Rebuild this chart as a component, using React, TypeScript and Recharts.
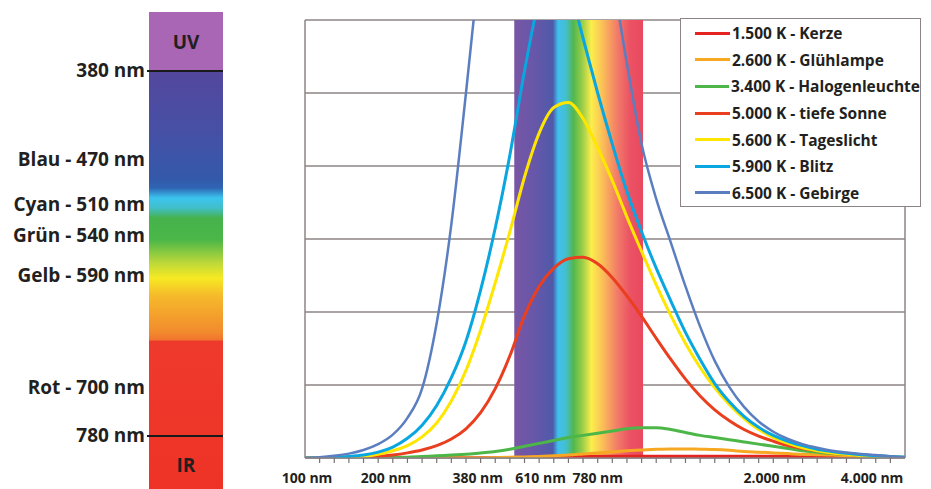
import { LineChart, Line, XAxis, YAxis, CartesianGrid, ReferenceArea, Legend } from "recharts";

// tick slots on the x axis (evenly spaced tick marks)
const positions = [
    0, 1, 2, 3, 4, 5, 6, 7, 8, 9, 10, 11, 12, 13, 14, 15, 16, 17, 18, 19, 20,
    21, 22, 23, 24, 25, 26, 27, 28, 29, 30, 31, 32, 33, 34, 35, 36, 37, 38, 39, 40, 41,
];

const kerze = [
    0, 0, 0, 0, 0, 0, 0, 0, 0, 0, 0, 0, 0, 0, 0, 0.005, 0.01, 0.015, 0.02, 0.02, 0.02,
    0.02, 0.02, 0.02, 0.02, 0.02, 0.02, 0.02, 0.02, 0.02, 0.02, 0.02, 0.02, 0.02, 0.015, 0.015, 0.015, 0.01, 0.01, 0.005, 0.005, 0,
];
const gluehlampe = [
    0, 0, 0, 0, 0, 0, 0, 0, 0, 0, 0, 0, 0, 0.005, 0.01, 0.015, 0.02, 0.03, 0.04, 0.055, 0.07,
    0.085, 0.1, 0.11, 0.12, 0.125, 0.125, 0.12, 0.115, 0.105, 0.09, 0.08, 0.07, 0.06, 0.05, 0.045, 0.04, 0.03, 0.02, 0.015, 0.01, 0,
];
const halogen = [
    0, 0, 0, 0, 0, 0.005, 0.01, 0.01, 0.02, 0.03, 0.04, 0.05, 0.07, 0.09, 0.12, 0.16, 0.2, 0.24, 0.28, 0.31, 0.34,
    0.37, 0.4, 0.415, 0.415, 0.39, 0.35, 0.31, 0.28, 0.25, 0.22, 0.19, 0.16, 0.13, 0.1, 0.08, 0.06, 0.05, 0.04, 0.03, 0.02, 0.01,
];
const tiefeSonne = [
    0, 0, 0, 0, 0.01, 0.02, 0.04, 0.07, 0.11, 0.17, 0.26, 0.4, 0.62, 0.95, 1.4, 1.95, 2.35, 2.6, 2.73, 2.75, 2.66,
    2.47, 2.22, 1.94, 1.64, 1.35, 1.08, 0.85, 0.66, 0.51, 0.39, 0.3, 0.23, 0.17, 0.13, 0.1, 0.07, 0.05, 0.035, 0.02, 0.01, 0,
];
const tageslicht = [
    0, 0, 0, 0.01, 0.02, 0.05, 0.1, 0.17, 0.29, 0.48, 0.78, 1.2, 1.75, 2.4, 3.1, 3.85, 4.45, 4.8, 4.87, 4.65, 4.25,
    3.8, 3.3, 2.83, 2.37, 1.95, 1.57, 1.24, 0.96, 0.73, 0.54, 0.39, 0.28, 0.2, 0.14, 0.1, 0.07, 0.05, 0.03, 0.02, 0.01, 0,
];
const blitz = [
    0, 0, 0.01, 0.02, 0.04, 0.08, 0.15, 0.27, 0.45, 0.72, 1.1, 1.6, 2.3, 3.15, 4.15, 5.3, 6.3, 6.9, 6.5, 5.75, 5.0,
    4.3, 3.65, 3.1, 2.6, 2.15, 1.72, 1.35, 1.02, 0.77, 0.57, 0.42, 0.31, 0.23, 0.17, 0.12, 0.09, 0.065, 0.045, 0.03, 0.02, 0.01,
];
const gebirge = [
    0, 0.01, 0.03, 0.06, 0.11, 0.19, 0.32, 0.55, 0.95, 1.85, 3.2, 5.0, 6.9, 8.5, 9.6, 10.2, 10.3, 9.9, 9.1, 8.4, 7.6,
    6.6, 5.4, 4.3, 3.55, 2.95, 2.35, 1.8, 1.33, 0.97, 0.7, 0.5, 0.36, 0.26, 0.19, 0.14, 0.1, 0.075, 0.055, 0.04, 0.025, 0.012,
];

const seriesNames = [
    "1.500 K - Kerze",
    "2.600 K - Glühlampe",
    "3.400 K - Halogenleuchte",
    "5.000 K - tiefe Sonne",
    "5.600 K - Tageslicht",
    "5.900 K - Blitz",
    "6.500 K - Gebirge",
];
const seriesValues = [kerze, gluehlampe, halogen, tiefeSonne, tageslicht, blitz, gebirge];
const seriesColors = ["#e52421", "#f7a823", "#4cb748", "#ea3f1f", "#ffe600", "#0aa6e0", "#5b7ec1"];
const seriesWidths = [3.5, 3, 3, 3, 3, 3, 2.5];

// where the wavelength labels sit along the tick slots
const xLabelPos = [0.14, 5.54, 11.8, 16.1, 20, 32.1, 38.75];
const xLabels = ["100 nm", "200 nm", "380 nm", "610 nm", "780 nm", "2.000 nm", "4.000 nm"];
const yTicks = [0, 1, 2, 3, 4, 5, 6];

// visible light band (380–780 nm) in tick slots
const bandFrom = 14.3;
const bandTo = 23.1;

const bandLabels = ["380 nm", "Blau - 470 nm", "Cyan - 510 nm", "Grün - 540 nm", "Gelb - 590 nm", "Rot - 700 nm", "780 nm"];
const bandLabelY = [71, 160, 205, 236, 276, 388, 436];

const GRID = "#8c8484";
const TEXT = "#231f20";
const FONT = "'Open Sans', sans-serif";

const data = positions.map((p, i) => {
    const row: Record<string, number> = { pos: p };
    seriesValues.forEach((vals, s) => {
        row[`s${s}`] = vals[i];
    });
    return row;
});

const allTicks = Array.from(new Set([...positions, ...xLabelPos])).sort((a, b) => a - b);

function AxisTick({ x, y, payload }: any) {
    const v = payload.value;
    const li = xLabelPos.indexOf(v);
    return (
        <g>
            {Number.isInteger(v) && v > 0 && v < 41 && (
                <line x1={x} x2={x} y1={y} y2={y + 5} stroke="#7a7272" strokeWidth={1.2} />
            )}
            {li >= 0 && (
                <text x={x} y={y + 25} textAnchor="middle" fontFamily={FONT} fontWeight={700} fontSize={14} fill={TEXT}>
                    {xLabels[li]}
                </text>
            )}
        </g>
    );
}

function LegendBox({ payload }: any) {
    return (
        <div
            style={{
                border: `1.5px solid ${GRID}`,
                background: "#fff",
                width: 241,
                height: 189,
                boxSizing: "border-box",
                paddingTop: 1,
            }}
        >
            {(payload || []).map((e: any) => (
                <div key={e.value} style={{ display: "flex", alignItems: "center", height: 26.6 }}>
                    <div style={{ width: 35, height: 3, background: e.color, marginLeft: 14, marginRight: 2 }} />
                    <span style={{ fontFamily: FONT, fontWeight: 700, fontSize: 15.5, color: TEXT, whiteSpace: "nowrap" }}>
                        {e.value}
                    </span>
                </div>
            ))}
        </div>
    );
}

function SpectrumBar() {
    const gradient =
        "linear-gradient(to bottom, #a866b5 0px, #a866b5 59px, #53479d 59px, #4650a5 120px, #3359aa 168px, #2e66b4 176px, #3bc4ef 186px, #41bfc9 196px, #45b24b 206px, #4bb748 228px, #b9d73a 250px, #f6ea23 266px, #f6b92b 284px, #f28b2d 320px, #f0742e 328px, #ee3a2d 329px, #ee3326 477px)";
    return (
        <>
            <div style={{ position: "absolute", left: 149, top: 12, width: 74, height: 477, background: gradient }} />
            <div style={{ position: "absolute", left: 147, top: 70, width: 76, height: 2, background: "#1a1a1a" }} />
            <div style={{ position: "absolute", left: 147, top: 435, width: 76, height: 2, background: "#1a1a1a" }} />
            <div style={{ position: "absolute", left: 149, width: 74, top: 29, textAlign: "center", fontFamily: FONT, fontWeight: 700, fontSize: 19, color: TEXT }}>
                UV
            </div>
            <div style={{ position: "absolute", left: 149, width: 74, top: 452, textAlign: "center", fontFamily: FONT, fontWeight: 700, fontSize: 19, color: TEXT }}>
                IR
            </div>
            {bandLabels.map((t, i) => (
                <div
                    key={t}
                    style={{
                        position: "absolute",
                        left: 0,
                        width: 145,
                        top: bandLabelY[i] - 14,
                        lineHeight: "26px",
                        textAlign: "right",
                        fontFamily: FONT,
                        fontWeight: 700,
                        fontSize: 19,
                        color: TEXT,
                        whiteSpace: "nowrap",
                    }}
                >
                    {t}
                </div>
            ))}
        </>
    );
}

export default function App() {
    return (
        <div style={{ position: "fixed", left: 0, top: 0, width: 931, height: 489, background: "#fff", overflow: "hidden" }}>
            <SpectrumBar />
            <div style={{ position: "absolute", left: 260, top: 0 }}>
                <LineChart width={671} height={489} data={data} margin={{ top: 20, right: 26, bottom: 0, left: 45 }}>
                    <defs>
                        <linearGradient id="spectrumBand" x1="0" y1="0" x2="1" y2="0">
                            <stop offset="0" stopColor="#7856a5" />
                            <stop offset="0.18" stopColor="#6457a9" />
                            <stop offset="0.3" stopColor="#4e5aa9" />
                            <stop offset="0.34" stopColor="#40c0ee" />
                            <stop offset="0.4" stopColor="#43bfcf" />
                            <stop offset="0.46" stopColor="#52b84c" />
                            <stop offset="0.53" stopColor="#9ccd48" />
                            <stop offset="0.6" stopColor="#fcee4c" />
                            <stop offset="0.68" stopColor="#fbc257" />
                            <stop offset="0.8" stopColor="#f27b68" />
                            <stop offset="0.9" stopColor="#eb5264" />
                            <stop offset="1" stopColor="#e9485e" />
                        </linearGradient>
                    </defs>
                    <CartesianGrid
                        stroke={GRID}
                        strokeWidth={1.5}
                        verticalCoordinatesGenerator={({ offset }: any) => [offset.left, offset.left + offset.width]}
                    />
                    <XAxis
                        dataKey="pos"
                        type="number"
                        domain={[0, 41]}
                        ticks={allTicks}
                        interval={0}
                        tick={<AxisTick />}
                        tickLine={false}
                        tickSize={0}
                        tickMargin={0}
                        axisLine={{ stroke: GRID, strokeWidth: 1.5 }}
                        height={31}
                    />
                    <YAxis hide type="number" domain={[0, 6]} ticks={yTicks} allowDataOverflow />
                    <ReferenceArea x1={bandFrom} x2={bandTo} y1={0} y2={6} fill="url(#spectrumBand)" fillOpacity={1} stroke="none" />
                    {seriesNames.map((name, s) => (
                        <Line
                            key={name}
                            type="monotone"
                            dataKey={`s${s}`}
                            name={name}
                            stroke={seriesColors[s]}
                            strokeWidth={seriesWidths[s]}
                            dot={false}
                            activeDot={false}
                            isAnimationActive={false}
                        />
                    ))}
                    <Legend
                        layout="vertical"
                        align="center"
                        verticalAlign="middle"
                        content={<LegendBox />}
                        wrapperStyle={{ left: 420, top: 18, width: 241, height: 189 }}
                    />
                </LineChart>
            </div>
        </div>
    );
}
